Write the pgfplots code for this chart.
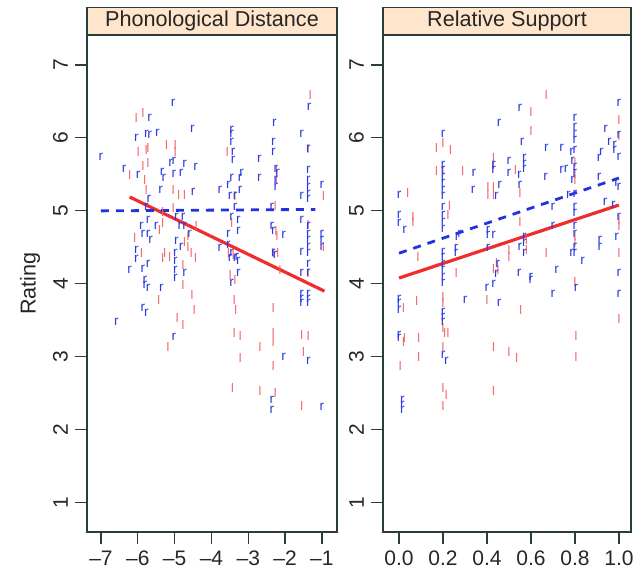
\documentclass[border=0pt]{standalone}
\usepackage{fontspec}
\setmainfont{Liberation Sans}
\usepackage{pgfplots}
\usepackage{pgfplotstable}
\pgfplotsset{compat=1.18}

\definecolor{framec}{RGB}{40,62,56}
\definecolor{stripc}{RGB}{255,229,204}
\definecolor{blueR}{RGB}{40,60,225}
\definecolor{redL}{RGB}{245,95,95}
\definecolor{redLine}{RGB}{240,45,45}
\definecolor{blueLine}{RGB}{35,50,225}

% left panel: phonological distance
\pgfplotstableread{
x y
-5.04 6.48
-5.68 6.27
-4.52 6.13
-6.04 6.00
-5.77 6.06
-5.68 6.04
-5.47 6.07
-7.00 5.74
-6.37 5.58
-5.99 5.49
-5.34 5.54
-5.29 5.45
-5.11 5.66
-5.02 5.68
-4.73 5.64
-4.43 5.60
-5.02 5.51
-4.82 5.52
-5.38 5.29
-4.50 5.26
-5.70 5.17
-5.77 5.06
-5.90 4.79
-5.72 4.88
-5.50 4.79
-5.86 4.69
-5.72 4.69
-5.65 4.60
-4.95 4.92
-4.77 4.92
-4.86 4.79
-4.73 4.79
-4.59 4.69
-4.95 4.59
-4.98 4.42
-4.82 4.51
-6.04 4.47
-6.04 4.34
-1.35 6.43
-2.29 6.20
-3.45 6.11
-3.45 6.06
-1.55 6.06
-3.45 5.94
-3.41 5.81
-3.41 5.70
-2.32 5.95
-2.32 5.81
-2.70 5.71
-1.37 5.85
-1.37 5.56
-1.37 5.42
-1.37 5.33
-1.37 5.24
-1.37 5.17
-1.00 5.36
-2.25 5.57
-2.20 5.52
-2.25 5.42
-2.25 5.33
-3.18 5.52
-3.22 5.45
-3.45 5.45
-2.70 5.45
-3.54 5.36
-3.77 5.29
-3.22 5.29
-3.49 5.20
-3.36 5.20
-1.55 5.20
-3.36 5.06
-2.36 5.06
-3.45 4.92
-3.27 4.88
-1.55 4.88
-2.36 4.79
-2.32 4.72
-2.04 4.67
-1.37 4.79
-1.37 4.69
-1.37 4.60
-1.37 4.51
-1.37 4.42
-1.00 4.69
-1.00 4.60
-1.00 4.51
-3.54 4.68
-3.27 4.72
-3.77 4.49
-3.54 4.53
-3.45 4.42
-3.31 4.37
-2.32 4.42
-1.55 4.44
-6.22 4.19
-5.86 4.21
-5.72 4.28
-5.81 4.05
-5.81 3.99
-5.72 3.94
-5.36 3.94
-4.98 4.31
-4.98 4.19
-4.98 4.08
-4.73 4.15
-5.86 3.67
-5.77 3.60
-6.58 3.48
-5.02 3.28
-3.49 4.36
-3.36 4.35
-3.27 4.31
-3.27 4.15
-3.45 4.01
-2.27 4.40
-1.37 4.28
-1.55 4.15
-1.37 4.15
-1.55 3.87
-1.55 3.80
-1.55 3.74
-1.37 3.87
-1.37 3.80
-1.37 3.74
-2.04 3.00
-1.37 2.94
-2.36 2.41
-2.36 2.27
-1.00 2.32
}\phonR

\pgfplotstableread{
x y
-6.04 6.27
-5.86 6.34
-5.99 5.81
-5.77 5.84
-5.72 5.65
-5.86 5.61
-5.81 5.42
-5.77 5.29
-5.22 5.90
-4.98 5.90
-4.98 5.81
-5.72 5.86
-6.22 5.49
-4.89 5.22
-5.04 5.29
-4.73 5.22
-5.04 5.04
-5.32 4.99
-5.32 4.83
-5.41 4.74
-4.64 4.65
-4.64 4.51
-4.55 4.42
-4.41 4.79
-5.27 4.42
-5.13 4.37
-4.73 4.58
-6.08 4.63
-5.90 4.42
-1.32 6.59
-3.57 5.81
-1.37 5.85
-2.23 5.56
-2.23 5.42
-0.96 5.20
-3.36 5.20
-2.27 5.06
-3.45 4.83
-2.25 4.72
-2.22 4.65
-1.37 4.81
-2.32 4.42
-2.20 4.42
-3.54 4.42
-3.41 4.40
-0.96 4.50
-5.32 4.35
-4.77 4.26
-4.77 3.99
-4.43 4.35
-4.53 3.85
-4.47 3.64
-5.43 3.78
-4.93 3.53
-4.77 3.44
-5.18 3.14
-3.49 4.12
-3.36 4.05
-2.14 4.19
-1.37 4.15
-3.38 3.78
-3.34 3.64
-2.32 3.67
-3.38 3.32
-3.22 3.28
-2.32 3.32
-2.32 3.21
-2.68 3.14
-1.55 3.30
-1.37 3.28
-1.50 3.07
-3.22 2.98
-2.32 2.87
-3.43 2.57
-2.68 2.53
-2.27 2.50
-1.55 2.32
}\phonL

% right panel: relative support
\pgfplotstableread{
x y
1.00 6.48
0.55 6.41
0.455 6.20
0.20 6.06
0.80 6.27
0.80 6.15
0.80 6.06
0.80 5.97
0.80 5.84
0.94 6.13
1.00 6.04
0.957 5.94
0.98 5.90
0.98 5.84
0.92 5.81
0.91 5.72
1.00 5.74
0.56 5.95
0.67 5.86
0.74 5.86
0.57 5.72
0.57 5.65
0.57 5.58
0.50 5.68
0.50 5.52
0.43 5.63
0.43 5.56
0.34 5.52
0.20 5.63
0.20 5.56
0.20 5.47
0.20 5.38
0.20 5.29
0.20 5.20
0.20 5.06
0.20 4.95
0.20 4.85
0.20 4.76
0.20 4.44
0.20 4.37
0.20 4.28
0.20 4.19
0.20 4.10
0.785 5.81
0.79 5.68
0.80 5.61
0.80 5.52
0.74 5.56
0.76 5.58
0.667 5.47
0.79 5.42
0.91 5.47
0.547 5.49
0.55 5.36
0.458 5.36
0.443 5.20
0.337 5.29
0.77 5.22
0.80 5.24
0.80 5.06
0.80 4.97
0.80 4.79
0.80 4.69
0.80 4.51
0.80 4.42
0.99 5.38
1.00 5.33
0.937 5.13
0.975 5.08
1.00 4.92
0.00 5.22
0.00 4.95
0.00 4.83
0.025 4.74
0.70 5.06
0.70 4.79
0.57 4.65
0.57 4.56
0.57 4.42
0.55 4.51
0.405 4.74
0.405 4.67
0.43 4.67
0.276 4.69
0.264 4.65
0.26 4.49
0.26 4.42
0.405 4.49
0.45 4.28
0.546 4.15
0.60 4.10
0.717 4.19
0.785 4.42
0.835 4.31
0.914 4.60
0.914 4.51
0.99 4.65
1.00 4.15
0.20 4.01
0.20 3.62
0.20 3.55
0.20 3.48
0.20 3.03
0.215 2.94
0.00 3.80
0.00 3.74
0.00 3.65
0.00 3.26
0.00 3.30
0.015 2.41
0.015 2.34
0.015 2.28
0.30 3.78
0.40 3.94
0.43 4.00
0.443 4.14
0.455 3.74
0.60 4.05
0.70 3.86
0.805 3.94
1.00 3.87
}\relR

\pgfplotstableread{
x y
0.67 6.59
0.60 6.36
0.60 6.09
1.00 6.25
1.00 6.02
0.17 5.86
0.20 5.93
0.234 5.84
0.17 5.54
0.20 5.54
0.29 5.54
0.43 5.72
0.43 5.63
0.405 5.33
0.405 5.22
0.43 5.33
0.43 5.22
0.53 5.56
0.55 5.24
0.55 4.85
0.80 5.50
0.80 5.42
0.80 5.65
0.23 5.06
0.223 4.95
0.063 4.92
0.063 4.85
0.04 5.24
0.80 4.65
0.80 4.56
1.00 4.88
1.00 4.79
1.00 4.42
0.58 4.60
0.58 4.47
0.50 4.47
0.50 4.37
0.443 4.28
0.45 4.19
0.67 4.42
0.086 4.37
0.26 4.15
0.08 3.77
0.02 3.67
0.025 3.26
0.02 3.20
0.09 3.26
0.09 3.00
0.006 2.87
0.20 3.82
0.20 3.74
0.20 3.40
0.208 3.32
0.223 3.32
0.20 3.14
0.20 2.57
0.215 2.48
0.20 2.32
0.40 3.78
0.43 3.13
0.43 2.53
0.50 3.07
0.535 2.98
0.553 3.64
0.80 4.03
0.805 3.28
0.805 3.00
1.00 3.52
0.43 4.20
}\relL

\pgfplotsset{
  every axis title shift=0pt,
  panel/.style={
    scale only axis,
    height=248.5pt,
    ymin=0.6, ymax=7.41,
    ytick={1,2,3,4,5,6,7},
    yticklabels={1,2,3,4,5,6,7},
    axis line style={draw=framec, line width=0.6pt},
    tick style={draw=framec, line width=0.6pt},
    tick align=outside,
    major tick length=6pt,
    tick pos=left,
    ticklabel style={font=\fontsize{10.5}{12}\selectfont, text=black!85},
    yticklabel style={rotate=90, anchor=south},
    title style={at={(0.5,1)}, anchor=south, yshift=0pt, fill=stripc, draw=framec,
      line width=0.6pt, inner sep=0pt, minimum height=13.5pt,
      font=\fontsize{10.8}{12}\selectfont, text=black!85},
  },
  rmark/.style={only marks, color=blueR, mark=text, text mark={r},
    text mark as node=true,
    text mark style={font=\fontsize{6.8}{7}\selectfont, inner sep=0pt}},
  lmark/.style={only marks, color=redL, mark=text, text mark={l},
    text mark as node=true,
    text mark style={font=\fontsize{6.2}{7}\selectfont, inner sep=0pt}},
}

\begin{document}
\begin{tikzpicture}
\path[use as bounding box] (0,0) rectangle (318pt,285.5pt);

\begin{axis}[panel,
  at={(43.5pt,19.5pt)}, anchor=south west,
  width=125pt,
  xmin=-7.38, xmax=-0.59,
  xtick={-7,-6,-5,-4,-3,-2,-1},
  xticklabels={–7,–6,–5,–4,–3,–2,–1},
  title={Phonological Distance},
  title style={minimum width=125pt},
  ylabel={Rating},
  ylabel style={at={(axis description cs:-0.228,0.5)}, anchor=center,
    font=\fontsize{10.8}{12}\selectfont, text=black!85},
]
\addplot[lmark] table {\phonL};
\addplot[rmark] table {\phonR};
\addplot[redLine, line width=1.6pt] coordinates {(-6.22,5.19) (-0.93,3.90)};
\addplot[blueLine, line width=1.4pt, dash pattern=on 4pt off 3.5pt] coordinates {(-7.0,5.00) (-1.18,5.02)};
\end{axis}

\begin{axis}[panel,
  at={(191.5pt,19.5pt)}, anchor=south west,
  width=124pt,
  xmin=-0.073, xmax=1.055,
  xtick={0,0.2,0.4,0.6,0.8,1},
  xticklabels={0.0,0.2,0.4,0.6,0.8,1.0},
  title={Relative Support},
  title style={minimum width=124pt},
]
\addplot[lmark] table {\relL};
\addplot[rmark] table {\relR};
\addplot[redLine, line width=1.6pt] coordinates {(0,4.08) (1,5.08)};
\addplot[blueLine, line width=1.4pt, dash pattern=on 4pt off 3.5pt] coordinates {(0,4.42) (1,5.45)};
\end{axis}
\end{tikzpicture}
\end{document}
